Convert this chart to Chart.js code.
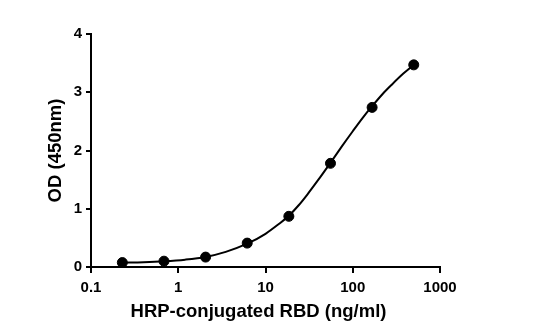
<!DOCTYPE html>
<html>
<head>
<meta charset="utf-8">
<script src="https://cdn.jsdelivr.net/npm/chart.js@4/dist/chart.umd.min.js"></script>
<style>
  html, body { margin: 0; padding: 0; background: #fff; }
  #c { display: block; }
</style>
</head>
<body>
<canvas id="c" width="539" height="330"></canvas>
<script>
// Measured standard points: 3-fold dilution series of HRP-conjugated RBD
const concentrations = [0.2286, 0.686, 2.058, 6.173, 18.52, 55.56, 166.7, 500];
const odValues = [0.076, 0.10, 0.17, 0.41, 0.87, 1.78, 2.74, 3.47];

// Fitted standard curve, sampled along its length
const curveX = [0.2286, 0.4, 0.686, 1.2, 2.058, 3.5, 6.173, 10, 14, 18.52, 24, 30, 40, 55.56, 75, 100, 130, 166.7, 220, 280, 380, 500];
const curveY = [0.073, 0.082, 0.098, 0.126, 0.173, 0.26, 0.40, 0.57, 0.73, 0.88, 1.06, 1.24, 1.49, 1.79, 2.07, 2.33, 2.56, 2.76, 2.97, 3.13, 3.32, 3.47];

// Axis ticks
const xTicks = [0.1, 1, 10, 100, 1000];
const yTicks = [0, 1, 2, 3, 4];

const FONT = '"Liberation Sans", Arial, Helvetica, sans-serif';

const points = concentrations.map((x, i) => ({ x, y: odValues[i] }));
const curve = curveX.map((x, i) => ({ x, y: curveY[i] }));

// Nudges the x-axis title a little to the left of the plot centre
const titleShift = {
  id: 'titleShift',
  beforeDraw(chart) {
    const s = chart.scales.x;
    if (!s._titleShifted) {
      s._titleShifted = true;
      const orig = s.drawTitle.bind(s);
      s.drawTitle = function () {
        const ctx = this.ctx;
        ctx.save();
        ctx.translate(-7, 0);
        orig();
        ctx.restore();
      };
    }
  }
};

new Chart(document.getElementById('c'), {
  type: 'scatter',
  data: {
    datasets: [
      {
        type: 'line',
        data: curve,
        borderColor: '#000',
        borderWidth: 2,
        pointRadius: 0,
        fill: false,
        cubicInterpolationMode: 'monotone',
        order: 2
      },
      {
        data: points,
        backgroundColor: '#000',
        borderColor: '#000',
        pointRadius: 5,
        pointHoverRadius: 5,
        order: 1
      }
    ]
  },
  plugins: [titleShift],
  options: {
    responsive: false,
    animation: false,
    devicePixelRatio: 1,
    layout: { padding: { left: 45, top: 34, right: 99, bottom: 7 } },
    plugins: { legend: { display: false }, tooltip: { enabled: false } },
    scales: {
      x: {
        type: 'logarithmic',
        min: xTicks[0],
        max: xTicks[xTicks.length - 1],
        afterBuildTicks: (s) => { s.ticks = xTicks.map(v => ({ value: v })); },
        afterFit: (s) => { s.height = 56; },
        ticks: {
          color: '#000',
          padding: 6,
          maxRotation: 0,
          autoSkip: false,
          font: { family: FONT, size: 15, weight: 'bold' },
          callback: (v) => String(v)
        },
        grid: { display: true, drawOnChartArea: false, drawTicks: true, tickLength: 6, color: '#000', lineWidth: 2 },
        border: { display: true, color: '#000', width: 2 },
        title: {
          display: true,
          text: 'HRP-conjugated RBD (ng/ml)',
          color: '#000',
          padding: 0,
          font: { family: FONT, size: 18.5, weight: 'bold' }
        }
      },
      y: {
        type: 'linear',
        min: yTicks[0],
        max: yTicks[yTicks.length - 1],
        afterBuildTicks: (s) => { s.ticks = yTicks.map(v => ({ value: v })); },
        afterFit: (s) => { s.width = 46; },
        ticks: {
          color: '#000',
          padding: 4,
          font: { family: FONT, size: 15, weight: 'bold' }
        },
        grid: { display: true, drawOnChartArea: false, drawTicks: true, tickLength: 5, color: '#000', lineWidth: 2 },
        border: { display: true, color: '#000', width: 2 },
        title: {
          display: true,
          text: 'OD (450nm)',
          color: '#000',
          padding: 0,
          font: { family: FONT, size: 18.5, weight: 'bold' }
        }
      }
    }
  }
});
</script>
</body>
</html>
